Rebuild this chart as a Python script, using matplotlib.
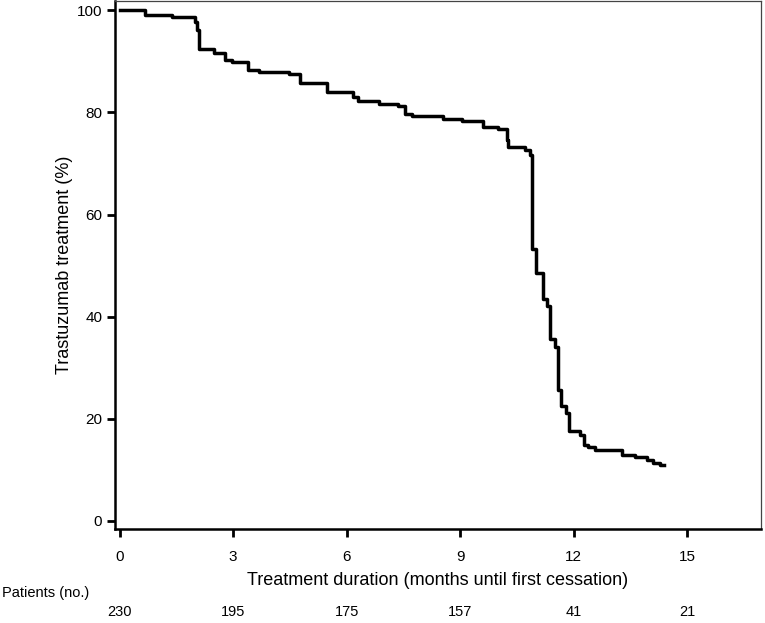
import matplotlib.pyplot as plt
import numpy as np

# step curve (months, % still on treatment)
months = [0, 0.66, 1.39, 1.98, 2.05, 2.09, 2.5, 2.78, 2.98, 3.38, 3.69, 4.48,
          4.76, 5.47, 6.17, 6.3, 6.86, 7.36, 7.54, 7.72, 8.54, 9.04, 9.61,
          10.01, 10.23, 10.26, 10.71, 10.85, 10.91, 11.0, 11.2, 11.29, 11.39,
          11.5, 11.58, 11.68, 11.8, 11.89, 12.17, 12.28, 12.39, 12.57, 13.27,
          13.62, 13.93, 14.1, 14.29, 14.4]
pct = [100, 99.1, 98.7, 97.7, 96.1, 92.5, 91.7, 90.2, 89.9, 88.3, 87.9, 87.5,
       85.7, 84.1, 83.0, 82.2, 81.7, 81.2, 79.8, 79.3, 78.8, 78.3, 77.2,
       76.7, 74.6, 73.3, 72.6, 71.6, 53.3, 48.6, 43.4, 42.1, 35.7,
       34.1, 25.6, 22.5, 21.1, 17.5, 16.8, 14.9, 14.4, 13.9, 12.9,
       12.5, 11.9, 11.4, 11.0, 11.0]

xticks = [0, 3, 6, 9, 12, 15]
yticks = [0, 20, 40, 60, 80, 100]
at_risk = [230, 195, 175, 157, 41, 21]

plt.rcParams['font.family'] = ['Liberation Sans', 'DejaVu Sans']

fig = plt.figure(figsize=(7.65, 6.23), dpi=100)
ax = fig.add_axes([0.150, 0.151, 0.845, 0.847])

ax.step(months, pct, where='post', color='black', linewidth=2.5)

ax.set_xlim(-0.13, 16.96)
ax.set_ylim(-1.6, 101.8)
ax.set_xticks(xticks)
ax.set_yticks(yticks)
ax.tick_params(direction='out', length=6, width=2, labelsize=11, color='black')
ax.tick_params(axis='x', pad=9)
ax.tick_params(axis='y', pad=3)

for side in ['left', 'bottom']:
    ax.spines[side].set_linewidth(1.8)
for side in ['top', 'right']:
    ax.spines[side].set_linewidth(0.9)
    ax.spines[side].set_color('#444444')

ax.set_xlabel('Treatment duration (months until first cessation)', fontsize=13, labelpad=6)
ax.set_ylabel('Trastuzumab treatment (%)', fontsize=13, labelpad=3)

# number-at-risk row under the axis
trans = ax.get_xaxis_transform()
fig.text(0.002, 0.048, 'Patients (no.)', fontsize=10.5, ha='left', va='center')
for t, n in zip(xticks, at_risk):
    ax.text(t, -0.157, str(n), transform=trans, fontsize=10.5, ha='center', va='center')

fig.savefig('out.png', dpi=100)
